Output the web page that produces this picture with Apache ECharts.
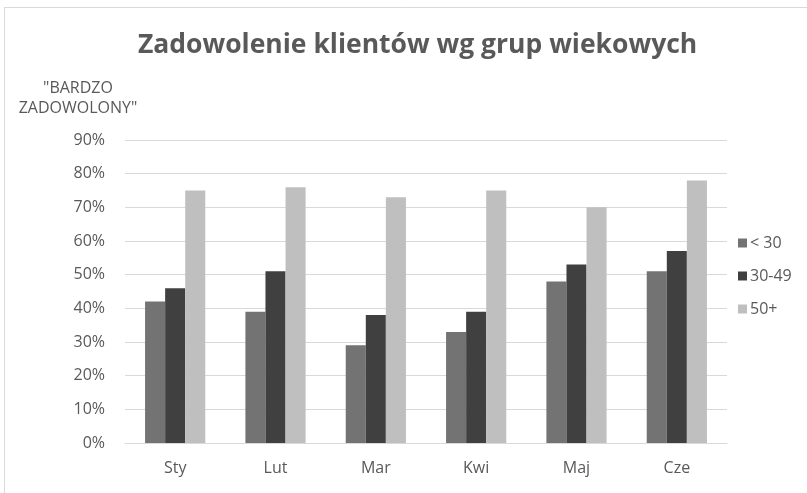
<!DOCTYPE html>
<html>
<head>
<meta charset="utf-8">
<script src="https://cdn.jsdelivr.net/npm/echarts@6/dist/echarts.min.js"></script>
<style>
  html, body { margin: 0; padding: 0; background: #fff; }
  #chart { width: 807px; height: 493px; }
</style>
</head>
<body>
<div id="chart"></div>
<script>
// dane
var months = ['Sty', 'Lut', 'Mar', 'Kwi', 'Maj', 'Cze']
var under30 = [42, 39, 29, 33, 48, 51]
var from30to49 = [46, 51, 38, 39, 53, 57]
var over50 = [75, 76, 73, 75, 70, 78]

var textColor = '#595959'
var font = 'Open Sans'

var chart = echarts.init(document.getElementById('chart'))

chart.setOption({
  animation: false,
  textStyle: { fontFamily: font },
  graphic: [{
    type: 'rect',
    shape: { x: 4.5, y: 7.5, width: 900, height: 600 },
    style: { fill: 'none', stroke: '#d9d9d9', lineWidth: 1 },
    silent: true
  }],
  title: {
    text: 'Zadowolenie klientów wg grup wiekowych',
    left: 133,
    top: 27,
    textStyle: { fontFamily: font, fontSize: 26.5, fontWeight: 'bold', color: textColor }
  },
  legend: {
    orient: 'vertical',
    left: 733,
    top: 230,
    itemWidth: 9,
    itemHeight: 9,
    itemGap: 17,
    icon: 'rect',
    textStyle: { fontFamily: font, fontSize: 16, color: textColor, padding: [0, 0, 0, -2] },
    data: ['< 30', '30-49', '50+']
  },
  grid: {
    left: 125,
    right: 80,
    top: 140,
    bottom: 50,
    containLabel: false
  },
  xAxis: {
    type: 'category',
    data: months,
    axisLine: { lineStyle: { color: '#d9d9d9' } },
    axisTick: { show: false },
    axisLabel: { color: textColor, fontSize: 16, margin: 17, fontFamily: font }
  },
  yAxis: {
    type: 'value',
    min: 0,
    max: 90,
    interval: 10,
    name: '"BARDZO\nZADOWOLONY"',
    nameLocation: 'end',
    nameGap: 22,
    nameTextStyle: { color: textColor, fontSize: 16, align: 'center', lineHeight: 20, padding: [0, 94, 0, 0], fontFamily: font },
    axisLine: { show: false },
    axisTick: { show: false },
    splitLine: { lineStyle: { color: '#d9d9d9', width: 1 } },
    axisLabel: { formatter: '{value}%', color: textColor, fontSize: 16, margin: 20, fontFamily: font }
  },
  series: [
    {
      name: '< 30',
      type: 'bar',
      data: under30,
      barGap: '0%',
      barCategoryGap: '40%',
      itemStyle: { color: '#737373' }
    },
    {
      name: '30-49',
      type: 'bar',
      data: from30to49,
      barGap: '0%',
      barCategoryGap: '40%',
      itemStyle: { color: '#404040' }
    },
    {
      name: '50+',
      type: 'bar',
      data: over50,
      barGap: '0%',
      barCategoryGap: '40%',
      itemStyle: { color: '#bfbfbf' }
    }
  ]
})
</script>
</body>
</html>
